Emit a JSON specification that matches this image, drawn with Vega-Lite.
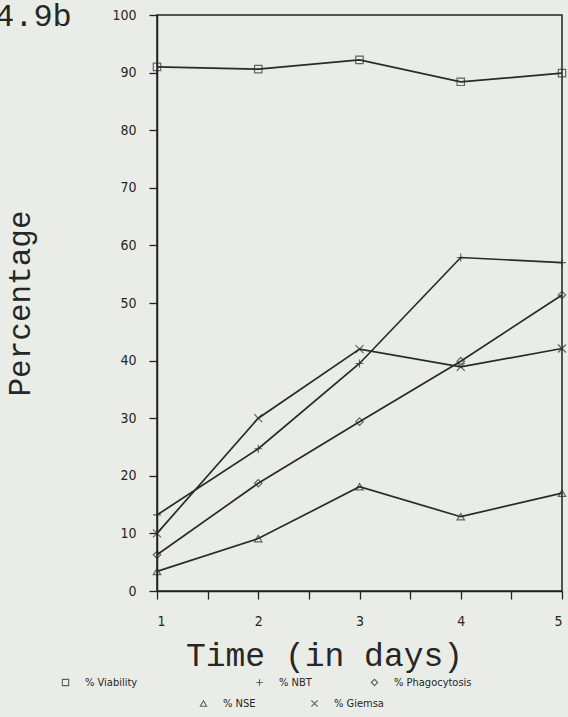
{
  "$schema": "https://vega.github.io/schema/vega-lite/v6.json",
  "width": 405,
  "height": 576,
  "autosize": "none",
  "padding": {"left": 157, "top": 15, "right": 6, "bottom": 126},
  "background": "#eaede7",
  "title": {
    "text": "4.9b",
    "anchor": "start",
    "frame": "group",
    "orient": "top",
    "offset": 0,
    "dx": -162,
    "dy": 50,
    "baseline": "alphabetic",
    "font": "Liberation Mono",
    "fontSize": 32,
    "fontWeight": "normal",
    "color": "#262626"
  },
  "config": {
    "view": {"stroke": "#222", "strokeWidth": 1.5},
    "axis": {
      "domainColor": "#222",
      "domainWidth": 1.5,
      "tickColor": "#222",
      "tickWidth": 1.3,
      "grid": false,
      "labelFont": "DejaVu Sans Condensed, Liberation Sans, sans-serif",
      "labelFontSize": 14,
      "labelColor": "#262626",
      "titleFont": "Liberation Mono",
      "titleFontWeight": "normal",
      "titleColor": "#262626"
    },
    "legend": {
      "labelFont": "DejaVu Sans Condensed, Liberation Sans, sans-serif",
      "labelFontSize": 11,
      "labelColor": "#262626",
      "symbolStrokeColor": "#262626",
      "symbolFillColor": "transparent",
      "symbolStrokeWidth": 1.1,
      "symbolSize": 40,
      "labelOffset": 14,
      "padding": 0,
      "orient": "none"
    }
  },
  "data": {
    "values": [
      {"day": 1, "series": "Viability", "value": 91.0},
      {"day": 2, "series": "Viability", "value": 90.6},
      {"day": 3, "series": "Viability", "value": 92.2},
      {"day": 4, "series": "Viability", "value": 88.4},
      {"day": 5, "series": "Viability", "value": 89.9},
      {"day": 1, "series": "NBT", "value": 13.2},
      {"day": 2, "series": "NBT", "value": 24.7},
      {"day": 3, "series": "NBT", "value": 39.5},
      {"day": 4, "series": "NBT", "value": 57.9},
      {"day": 5, "series": "NBT", "value": 57.0},
      {"day": 1, "series": "Giemsa", "value": 10.0},
      {"day": 2, "series": "Giemsa", "value": 30.0},
      {"day": 3, "series": "Giemsa", "value": 42.0},
      {"day": 4, "series": "Giemsa", "value": 38.9},
      {"day": 5, "series": "Giemsa", "value": 42.1},
      {"day": 1, "series": "Phagocytosis", "value": 6.3},
      {"day": 2, "series": "Phagocytosis", "value": 18.7},
      {"day": 3, "series": "Phagocytosis", "value": 29.4},
      {"day": 4, "series": "Phagocytosis", "value": 39.9},
      {"day": 5, "series": "Phagocytosis", "value": 51.4},
      {"day": 1, "series": "NSE", "value": 3.4},
      {"day": 2, "series": "NSE", "value": 9.1},
      {"day": 3, "series": "NSE", "value": 18.1},
      {"day": 4, "series": "NSE", "value": 12.9},
      {"day": 5, "series": "NSE", "value": 17.0}
    ]
  },
  "encoding": {
    "x": {
      "field": "day",
      "type": "quantitative",
      "scale": {"domain": [1, 5], "nice": false, "zero": false},
      "axis": {
        "values": [1, 1.5, 2, 2.5, 3, 3.5, 4, 4.5, 5],
        "labelExpr": "datum.value % 1 === 0 ? format(datum.value, 'd') : ''",
        "tickSize": 8,
        "labelPadding": 15,
        "title": "Time  (in days)",
        "titleFontSize": 33,
        "titleX": 167,
        "titleY": 74,
        "titleAlign": "center",
        "titleBaseline": "alphabetic"
      }
    },
    "y": {
      "field": "value",
      "type": "quantitative",
      "scale": {"domain": [0, 100], "nice": false},
      "axis": {
        "values": [0, 10, 20, 30, 40, 50, 60, 70, 80, 90, 100],
        "tickSize": 8,
        "labelPadding": 13,
        "title": "Percentage",
        "titleFontSize": 31,
        "titleAngle": -90,
        "titleX": -128,
        "titleY": 288,
        "titleAlign": "center",
        "titleBaseline": "alphabetic"
      }
    }
  },
  "layer": [
    {
      "mark": {"type": "line", "color": "#2a2a2a", "strokeWidth": 1.7},
      "encoding": {"detail": {"field": "series"}}
    },
    {
      "transform": [{"filter": "datum.series === 'Viability'"}],
      "mark": {"type": "point", "filled": false, "color": "#2a2a2a", "size": 55, "strokeWidth": 1.2},
      "encoding": {
        "shape": {
          "field": "series",
          "scale": {"domain": ["Viability"], "range": ["square"]},
          "legend": {"title": null, "labelExpr": "'% ' + datum.label", "legendX": -97, "legendY": 662}
        }
      }
    },
    {
      "transform": [{"filter": "datum.series === 'NBT'"}],
      "mark": {"type": "point", "filled": false, "color": "#2a2a2a", "size": 64, "strokeWidth": 1.2},
      "encoding": {
        "shape": {
          "field": "series",
          "scale": {"domain": ["NBT"], "range": ["M-1,0L1,0M0,-1L0,1"]},
          "legend": {"title": null, "labelExpr": "'% ' + datum.label", "legendX": 97, "legendY": 662}
        }
      }
    },
    {
      "transform": [{"filter": "datum.series === 'Phagocytosis'"}],
      "mark": {"type": "point", "filled": false, "color": "#2a2a2a", "size": 55, "strokeWidth": 1.2},
      "encoding": {
        "shape": {
          "field": "series",
          "scale": {"domain": ["Phagocytosis"], "range": ["diamond"]},
          "legend": {"title": null, "labelExpr": "'% ' + datum.label", "legendX": 212, "legendY": 662}
        }
      }
    },
    {
      "transform": [{"filter": "datum.series === 'NSE'"}],
      "mark": {"type": "point", "filled": false, "color": "#2a2a2a", "size": 55, "strokeWidth": 1.2},
      "encoding": {
        "shape": {
          "field": "series",
          "scale": {"domain": ["NSE"], "range": ["triangle-up"]},
          "legend": {"title": null, "labelExpr": "'% ' + datum.label", "legendX": 41, "legendY": 683}
        }
      }
    },
    {
      "transform": [{"filter": "datum.series === 'Giemsa'"}],
      "mark": {"type": "point", "filled": false, "color": "#2a2a2a", "size": 64, "strokeWidth": 1.2},
      "encoding": {
        "shape": {
          "field": "series",
          "scale": {"domain": ["Giemsa"], "range": ["M-1,-1L1,1M-1,1L1,-1"]},
          "legend": {"title": null, "labelExpr": "'% ' + datum.label", "legendX": 152, "legendY": 683}
        }
      }
    }
  ],
  "resolve": {"scale": {"shape": "independent"}, "legend": {"shape": "independent"}}
}
